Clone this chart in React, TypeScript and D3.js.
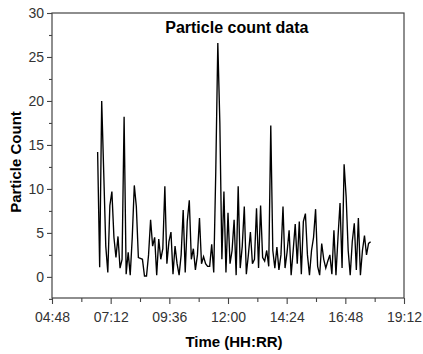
import * as d3 from 'd3';
import { useEffect, useRef } from 'react';

// sampling: first reading at 06:40, one reading every 5 minutes
const startMinute = 6 * 60 + 40;
const stepMinutes = 5;

const counts = [
  14.2, 1.1, 20.0, 11.8, 3.5, 0.5, 8.1, 9.7, 4.5, 2.2,
  4.6, 1.0, 2.0, 18.2, 0.3, 2.8, 0.2, 4.5, 10.4, 8.0,
  2.2, 2.1, 2.0, 0.1, 0.1, 2.5, 6.5, 3.5, 4.5, 0.2,
  4.3, 2.0, 3.2, 10.3, 1.5, 4.0, 5.1, 0.3, 3.5, 1.5,
  0.2, 2.5, 7.6, 0.5, 6.3, 8.7, 2.0, 3.2, 0.8, 2.5,
  6.7, 1.5, 2.3, 1.5, 1.2, 1.2, 3.7, 0.5, 12.0, 26.6,
  17.5, 2.0, 9.7, 0.5, 7.3, 1.5, 3.0, 6.5, 0.2, 10.3,
  1.0, 3.5, 8.0, 0.3, 2.5, 5.1, 1.5, 2.0, 7.8, 1.0,
  8.1, 2.2, 1.8, 3.0, 1.2, 17.2, 3.0, 1.0, 3.4, 0.8,
  2.5, 8.0, 1.0, 2.8, 5.3, 0.2, 3.0, 6.0, 1.5, 6.3,
  0.3, 6.3, 7.2, 2.5, 0.2, 3.0, 4.5, 7.7, 1.2, 0.2,
  3.8, 2.0, 1.0, 1.8, 2.5, 0.3, 5.3, 0.2, 4.5, 8.4,
  1.0, 12.8, 9.1, 3.0, 0.2, 4.0, 6.1, 0.8, 6.7, 0.2,
  3.0, 4.7, 2.5, 3.8, 4.0,
];

const xTickMinutes = [288, 432, 576, 720, 864, 1008, 1152];
const yTicks = [0, 5, 10, 15, 20, 25, 30];

const fmtTime = (m: number) =>
  `${String(Math.floor(m / 60)).padStart(2, '0')}:${String(m % 60).padStart(2, '0')}`;

const ParticleChart = () => {
  const ref = useRef<SVGSVGElement>(null);

  useEffect(() => {
    const width = 423;
    const height = 354;
    const margin = { top: 13, right: 19, bottom: 56, left: 52 };

    const svg = d3.select(ref.current);
    svg.selectAll('*').remove();
    svg.attr('width', width).attr('height', height);

    const w = width - margin.left - margin.right;
    const h = height - margin.top - margin.bottom;

    const chart = svg.append('g')
      .attr('transform', `translate(${margin.left},${margin.top})`);

    const x = d3.scaleLinear().domain([288, 1152]).range([0, w]);
    const y = d3.scaleLinear().domain([-2.4, 30]).range([h, 0]);

    const font = '"Liberation Sans", Arial, sans-serif';

    // frame
    chart.append('rect')
      .attr('width', w).attr('height', h)
      .attr('fill', 'none').attr('stroke', '#444').attr('stroke-width', 1.2);

    // x axis: major + minor ticks
    const xAxis = chart.append('g').attr('transform', `translate(0,${h})`);
    xAxis.call(d3.axisBottom(x).tickValues(xTickMinutes).tickSize(6).tickFormat(d => fmtTime(+d)));
    xAxis.append('g').call(
      d3.axisBottom(x).tickValues(xTickMinutes.slice(0, -1).map(m => m + 72)).tickSize(4).tickFormat(() => '')
    );

    const yAxis = chart.append('g');
    yAxis.call(d3.axisLeft(y).tickValues(yTicks).tickSize(5));
    yAxis.append('g').call(
      d3.axisLeft(y).tickValues(yTicks.map(v => v - 2.5)).tickSize(3).tickFormat(() => '')
    );

    chart.selectAll('.domain').remove();
    chart.selectAll('.tick line').attr('stroke', '#444').attr('stroke-width', 1.1);
    chart.selectAll('.tick text')
      .attr('fill', '#333')
      .style('font-family', font)
      .style('font-size', '14px');
    xAxis.selectAll('.tick text').attr('dy', '1.05em');

    // series
    const points = counts.map((v, i) => ({ t: startMinute + i * stepMinutes, v }));
    const line = d3.line<{ t: number; v: number }>().x(d => x(d.t)).y(d => y(d.v));
    chart.append('path')
      .datum(points)
      .attr('d', line)
      .attr('fill', 'none')
      .attr('stroke', '#000')
      .attr('stroke-width', 1.35)
      .attr('stroke-linejoin', 'miter');

    // title and axis labels
    chart.append('text')
      .attr('x', w * 0.525).attr('y', 20)
      .attr('text-anchor', 'middle')
      .style('font-family', font).style('font-size', '16px').style('font-weight', 'bold')
      .text('Particle count data');

    svg.append('text')
      .attr('x', 234).attr('y', 347)
      .attr('text-anchor', 'middle')
      .style('font-family', font).style('font-size', '15px').style('font-weight', 'bold')
      .text('Time (HH:RR)');

    svg.append('text')
      .attr('transform', 'translate(21,162) rotate(-90)')
      .attr('text-anchor', 'middle')
      .style('font-family', font).style('font-size', '15px').style('font-weight', 'bold')
      .text('Particle Count');
  }, []);

  return <svg ref={ref} style={{ position: 'absolute', left: 0, top: 0, background: '#fff' }} />;
};

export default function App() {
  return <ParticleChart />;
}
